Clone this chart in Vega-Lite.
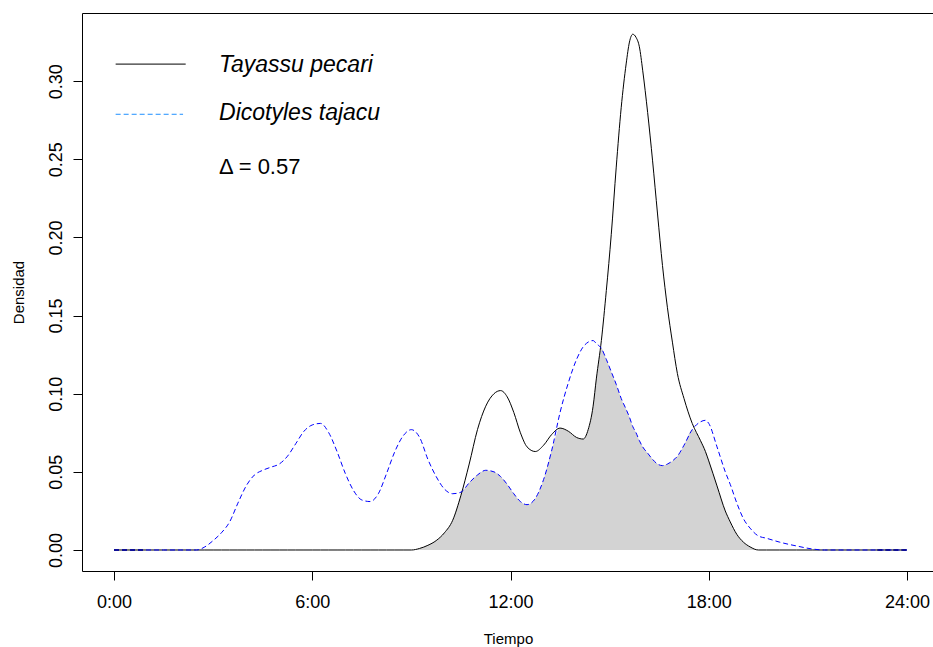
{
  "$schema": "https://vega.github.io/schema/vega-lite/v6.json",
  "width": 852,
  "height": 558,
  "autosize": {"type": "none"},
  "padding": {"left": 82, "top": 13, "right": 0, "bottom": 76},
  "background": "white",
  "config": {
    "font": "Liberation Sans",
    "view": {"stroke": "black", "strokeWidth": 1},
    "axis": {"domain": false, "grid": false, "tickColor": "black", "tickSize": 9, "labelColor": "black", "titleColor": "black", "labelFont": "Liberation Sans", "titleFont": "Liberation Sans", "titleFontWeight": "normal", "labelFontSize": 18, "titleFontSize": 15}
  },
  "datasets": {
    "curves": [
      {"h": 0, "tp": 0, "dt": 0, "ov": 0},
      {"h": 0.5, "tp": 0, "dt": 0, "ov": 0},
      {"h": 1, "tp": 0, "dt": 0, "ov": 0},
      {"h": 1.5, "tp": 0, "dt": 0, "ov": 0},
      {"h": 2, "tp": 0, "dt": 0, "ov": 0},
      {"h": 2.5, "tp": 0, "dt": 0, "ov": 0},
      {"h": 2.75, "tp": 0, "dt": 0.002, "ov": 0},
      {"h": 3.0, "tp": 0, "dt": 0.006, "ov": 0},
      {"h": 3.25, "tp": 0, "dt": 0.011, "ov": 0},
      {"h": 3.5, "tp": 0, "dt": 0.018, "ov": 0},
      {"h": 3.75, "tp": 0, "dt": 0.030, "ov": 0},
      {"h": 4.0, "tp": 0, "dt": 0.041, "ov": 0},
      {"h": 4.25, "tp": 0, "dt": 0.048, "ov": 0},
      {"h": 4.5, "tp": 0, "dt": 0.051, "ov": 0},
      {"h": 4.75, "tp": 0, "dt": 0.053, "ov": 0},
      {"h": 5.0, "tp": 0, "dt": 0.055, "ov": 0},
      {"h": 5.25, "tp": 0, "dt": 0.060, "ov": 0},
      {"h": 5.5, "tp": 0, "dt": 0.068, "ov": 0},
      {"h": 5.75, "tp": 0, "dt": 0.076, "ov": 0},
      {"h": 6.0, "tp": 0, "dt": 0.080, "ov": 0},
      {"h": 6.25, "tp": 0, "dt": 0.081, "ov": 0},
      {"h": 6.5, "tp": 0, "dt": 0.075, "ov": 0},
      {"h": 6.75, "tp": 0, "dt": 0.063, "ov": 0},
      {"h": 7.0, "tp": 0, "dt": 0.049, "ov": 0},
      {"h": 7.25, "tp": 0, "dt": 0.038, "ov": 0},
      {"h": 7.5, "tp": 0, "dt": 0.032, "ov": 0},
      {"h": 7.75, "tp": 0, "dt": 0.031, "ov": 0},
      {"h": 8.0, "tp": 0, "dt": 0.036, "ov": 0},
      {"h": 8.25, "tp": 0, "dt": 0.049, "ov": 0},
      {"h": 8.5, "tp": 0, "dt": 0.063, "ov": 0},
      {"h": 8.75, "tp": 0, "dt": 0.073, "ov": 0},
      {"h": 9.0, "tp": 0, "dt": 0.077, "ov": 0},
      {"h": 9.25, "tp": 0.001, "dt": 0.072, "ov": 0.001},
      {"h": 9.5, "tp": 0.003, "dt": 0.058, "ov": 0.003},
      {"h": 9.75, "tp": 0.006, "dt": 0.047, "ov": 0.006},
      {"h": 10.0, "tp": 0.011, "dt": 0.039, "ov": 0.011},
      {"h": 10.25, "tp": 0.019, "dt": 0.036, "ov": 0.019},
      {"h": 10.5, "tp": 0.035, "dt": 0.037, "ov": 0.035},
      {"h": 10.75, "tp": 0.055, "dt": 0.043, "ov": 0.043},
      {"h": 11.0, "tp": 0.077, "dt": 0.048, "ov": 0.048},
      {"h": 11.25, "tp": 0.092, "dt": 0.051, "ov": 0.051},
      {"h": 11.5, "tp": 0.100, "dt": 0.050, "ov": 0.050},
      {"h": 11.7, "tp": 0.102, "dt": 0.047, "ov": 0.047},
      {"h": 11.9, "tp": 0.098, "dt": 0.042, "ov": 0.042},
      {"h": 12.1, "tp": 0.088, "dt": 0.036, "ov": 0.036},
      {"h": 12.3, "tp": 0.075, "dt": 0.031, "ov": 0.031},
      {"h": 12.5, "tp": 0.066, "dt": 0.029, "ov": 0.029},
      {"h": 12.75, "tp": 0.063, "dt": 0.033, "ov": 0.033},
      {"h": 13.0, "tp": 0.067, "dt": 0.045, "ov": 0.045},
      {"h": 13.25, "tp": 0.074, "dt": 0.064, "ov": 0.064},
      {"h": 13.5, "tp": 0.078, "dt": 0.088, "ov": 0.078},
      {"h": 13.75, "tp": 0.076, "dt": 0.107, "ov": 0.076},
      {"h": 14.0, "tp": 0.072, "dt": 0.122, "ov": 0.072},
      {"h": 14.2, "tp": 0.071, "dt": 0.130, "ov": 0.071},
      {"h": 14.35, "tp": 0.077, "dt": 0.133, "ov": 0.077},
      {"h": 14.5, "tp": 0.092, "dt": 0.134, "ov": 0.092},
      {"h": 14.6, "tp": 0.110, "dt": 0.132, "ov": 0.110},
      {"h": 14.75, "tp": 0.134, "dt": 0.129, "ov": 0.129},
      {"h": 14.9, "tp": 0.166, "dt": 0.122, "ov": 0.122},
      {"h": 15.05, "tp": 0.202, "dt": 0.114, "ov": 0.114},
      {"h": 15.2, "tp": 0.245, "dt": 0.106, "ov": 0.106},
      {"h": 15.35, "tp": 0.283, "dt": 0.097, "ov": 0.097},
      {"h": 15.5, "tp": 0.311, "dt": 0.090, "ov": 0.090},
      {"h": 15.6, "tp": 0.325, "dt": 0.085, "ov": 0.085},
      {"h": 15.7, "tp": 0.330, "dt": 0.079, "ov": 0.079},
      {"h": 15.8, "tp": 0.328, "dt": 0.075, "ov": 0.075},
      {"h": 15.9, "tp": 0.322, "dt": 0.070, "ov": 0.070},
      {"h": 16.0, "tp": 0.307, "dt": 0.066, "ov": 0.066},
      {"h": 16.15, "tp": 0.280, "dt": 0.062, "ov": 0.062},
      {"h": 16.3, "tp": 0.249, "dt": 0.058, "ov": 0.058},
      {"h": 16.45, "tp": 0.215, "dt": 0.055, "ov": 0.055},
      {"h": 16.6, "tp": 0.182, "dt": 0.054, "ov": 0.054},
      {"h": 16.75, "tp": 0.155, "dt": 0.055, "ov": 0.055},
      {"h": 16.9, "tp": 0.133, "dt": 0.057, "ov": 0.057},
      {"h": 17.05, "tp": 0.113, "dt": 0.060, "ov": 0.060},
      {"h": 17.25, "tp": 0.097, "dt": 0.067, "ov": 0.067},
      {"h": 17.5, "tp": 0.081, "dt": 0.077, "ov": 0.077},
      {"h": 17.75, "tp": 0.070, "dt": 0.082, "ov": 0.070},
      {"h": 17.9, "tp": 0.063, "dt": 0.083, "ov": 0.063},
      {"h": 18.0, "tp": 0.057, "dt": 0.081, "ov": 0.057},
      {"h": 18.25, "tp": 0.041, "dt": 0.066, "ov": 0.041},
      {"h": 18.5, "tp": 0.025, "dt": 0.050, "ov": 0.025},
      {"h": 18.65, "tp": 0.018, "dt": 0.042, "ov": 0.018},
      {"h": 18.85, "tp": 0.010, "dt": 0.030, "ov": 0.010},
      {"h": 19.05, "tp": 0.005, "dt": 0.020, "ov": 0.005},
      {"h": 19.25, "tp": 0.002, "dt": 0.014, "ov": 0.002},
      {"h": 19.5, "tp": 0, "dt": 0.009, "ov": 0},
      {"h": 19.75, "tp": 0, "dt": 0.0075, "ov": 0},
      {"h": 20.15, "tp": 0, "dt": 0.005, "ov": 0},
      {"h": 20.65, "tp": 0, "dt": 0.0026, "ov": 0},
      {"h": 21.15, "tp": 0, "dt": 0.0006, "ov": 0},
      {"h": 21.5, "tp": 0, "dt": 0, "ov": 0},
      {"h": 22, "tp": 0, "dt": 0, "ov": 0},
      {"h": 23, "tp": 0, "dt": 0, "ov": 0},
      {"h": 24, "tp": 0, "dt": 0, "ov": 0}
    ],
    "ends": [
      {"x1": 0, "x2": 0.95, "y": 0},
      {"x1": 23.1, "x2": 24, "y": 0}
    ],
    "legblack": [{"x1": 0.05, "x2": 2.17, "y": 0.3109}],
    "legblue": [{"x1": 0.05, "x2": 2.09, "y": 0.2788}],
    "legtext": [
      {"x": 3.18, "y": 0.3060, "label": "Tayassu pecari"},
      {"x": 3.18, "y": 0.2751, "label": "Dicotyles tajacu"}
    ],
    "delta": [{"x": 3.18, "y": 0.2406, "label": "Δ = 0.57"}]
  },
  "layer": [
    {
      "data": {"name": "curves"},
      "mark": {"type": "area", "color": "#D3D3D3", "opacity": 1, "interpolate": "monotone"},
      "encoding": {
        "x": {"field": "h", "type": "quantitative", "scale": {"domain": [-0.9685, 24.817], "nice": false, "zero": false},
          "axis": {"values": [0, 6, 12, 18, 24], "labelExpr": "datum.value + ':00'", "title": "Tiempo", "labelBaseline": "alphabetic", "labelPadding": 27, "titleY": 67, "titleBaseline": "middle"}},
        "y": {"field": "ov", "type": "quantitative", "scale": {"domain": [-0.01344, 0.3436], "nice": false, "zero": false},
          "axis": {"values": [0, 0.05, 0.1, 0.15, 0.2, 0.25, 0.3], "format": ".2f", "labelAngle": -90, "labelAlign": "center", "labelBaseline": "alphabetic", "labelPadding": 12, "title": "Densidad", "titleX": -64, "titleBaseline": "middle"}},
        "y2": {"datum": 0}
      }
    },
    {
      "data": {"name": "curves"},
      "mark": {"type": "line", "color": "black", "strokeWidth": 1, "interpolate": "monotone"},
      "encoding": {
        "x": {"field": "h", "type": "quantitative"},
        "y": {"field": "tp", "type": "quantitative"}
      }
    },
    {
      "data": {"name": "curves"},
      "mark": {"type": "line", "color": "#0000FF", "strokeWidth": 1, "strokeDash": [5, 3], "interpolate": "monotone"},
      "encoding": {
        "x": {"field": "h", "type": "quantitative"},
        "y": {"field": "dt", "type": "quantitative"}
      }
    },
    {
      "data": {"name": "ends"},
      "mark": {"type": "rule", "color": "#00008B", "strokeWidth": 1.5, "strokeDash": [5, 3]},
      "encoding": {
        "x": {"field": "x1", "type": "quantitative"},
        "x2": {"field": "x2"},
        "y": {"field": "y", "type": "quantitative"}
      }
    },
    {
      "data": {"name": "legblack"},
      "mark": {"type": "rule", "color": "black", "strokeWidth": 1},
      "encoding": {
        "x": {"field": "x1", "type": "quantitative"},
        "x2": {"field": "x2"},
        "y": {"field": "y", "type": "quantitative"}
      }
    },
    {
      "data": {"name": "legblue"},
      "mark": {"type": "rule", "color": "#1E90FF", "strokeWidth": 1, "strokeDash": [5, 3]},
      "encoding": {
        "x": {"field": "x1", "type": "quantitative"},
        "x2": {"field": "x2"},
        "y": {"field": "y", "type": "quantitative"}
      }
    },
    {
      "data": {"name": "legtext"},
      "mark": {"type": "text", "align": "left", "baseline": "alphabetic", "fontSize": 23, "fontStyle": "italic", "font": "Liberation Sans", "color": "black"},
      "encoding": {
        "x": {"field": "x", "type": "quantitative"},
        "y": {"field": "y", "type": "quantitative"},
        "text": {"field": "label"}
      }
    },
    {
      "data": {"name": "delta"},
      "mark": {"type": "text", "align": "left", "baseline": "alphabetic", "fontSize": 22, "font": "Liberation Sans", "color": "black"},
      "encoding": {
        "x": {"field": "x", "type": "quantitative"},
        "y": {"field": "y", "type": "quantitative"},
        "text": {"field": "label"}
      }
    }
  ]
}
